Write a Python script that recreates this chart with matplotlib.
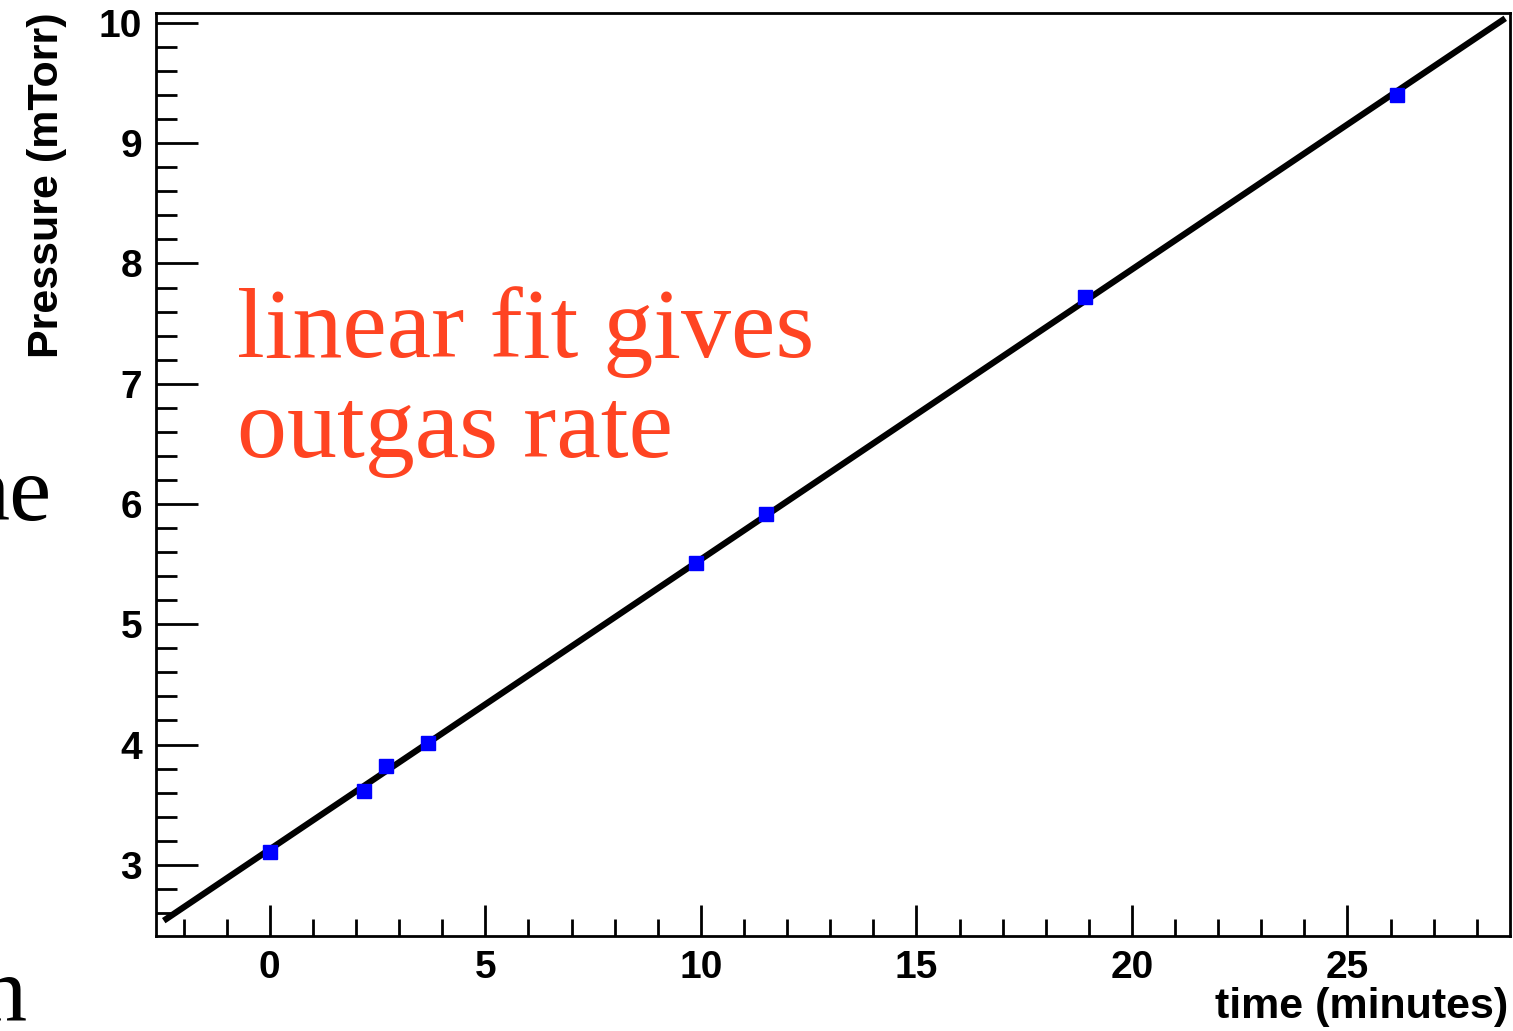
import numpy as np
import matplotlib.pyplot as plt
from matplotlib.ticker import MultipleLocator

# measured points (time in minutes, pressure in mTorr)
time_min = [0.0, 2.18, 2.69, 3.67, 9.88, 11.51, 18.9, 26.15]
pressure = [3.11, 3.615, 3.82, 4.01, 5.51, 5.92, 7.72, 9.40]

# range of the drawn fit line
fit_xmin, fit_xmax = -2.4, 28.6

fig = plt.figure(figsize=(15.13, 10.31), dpi=100)
ax = fig.add_axes([0.1031, 0.0924, 0.8949, 0.8947])

# linear fit
slope, icpt = np.polyfit(time_min, pressure, 1)
xf = np.linspace(fit_xmin, fit_xmax, 200)
ax.plot(xf, slope * xf + icpt, color="black", lw=4.5, zorder=2)
ax.plot(time_min, pressure, "s", color="#0000ff", ms=9.5, zorder=3)

ax.set_xlim(-2.64, 28.77)
ax.set_ylim(2.41, 10.08)

ax.xaxis.set_major_locator(MultipleLocator(5))
ax.xaxis.set_minor_locator(MultipleLocator(1))
ax.yaxis.set_major_locator(MultipleLocator(1))
ax.yaxis.set_minor_locator(MultipleLocator(0.2))

ax.tick_params(which="both", direction="in", top=False, right=False, width=2)
ax.tick_params(axis="y", which="major", length=30, pad=10)
ax.tick_params(axis="y", which="minor", length=15)
ax.tick_params(axis="x", which="major", length=22, pad=10)
ax.tick_params(axis="x", which="minor", length=12)
for lab in ax.get_xticklabels() + ax.get_yticklabels():
    lab.set_fontsize(28)
    lab.set_fontweight("bold")
    lab.set_fontfamily("Liberation Sans")

for s in ax.spines.values():
    s.set_linewidth(2)

fig.text(0.0311, 0.988, "Pressure (mTorr)", rotation=90, ha="center", va="top",
         fontsize=31, fontweight="bold", family="Liberation Sans")
fig.text(0.997, 0.004, "time (minutes)", ha="right", va="bottom",
         fontsize=31, fontweight="bold", family="Liberation Sans")

# annotation on the slide
red = "#ff4422"
fig.text(237 / 1513, 1 - 357 / 1031, "linear fit gives", ha="left", va="baseline",
         fontsize=72, color=red, family="Liberation Serif")
fig.text(237 / 1513, 1 - 457 / 1031, "outgas rate", ha="left", va="baseline",
         fontsize=72, color=red, family="Liberation Serif")

# slide text cut off at left edge
fig.text(52 / 1513, 1 - 520 / 1031, "ne", ha="right", va="baseline",
         fontsize=68, family="Liberation Serif", color="black")
fig.text(27 / 1513, 1 - 1020 / 1031, "n", ha="right", va="baseline",
         fontsize=68, family="Liberation Serif", color="black")

fig.savefig("out.png", dpi=100)
